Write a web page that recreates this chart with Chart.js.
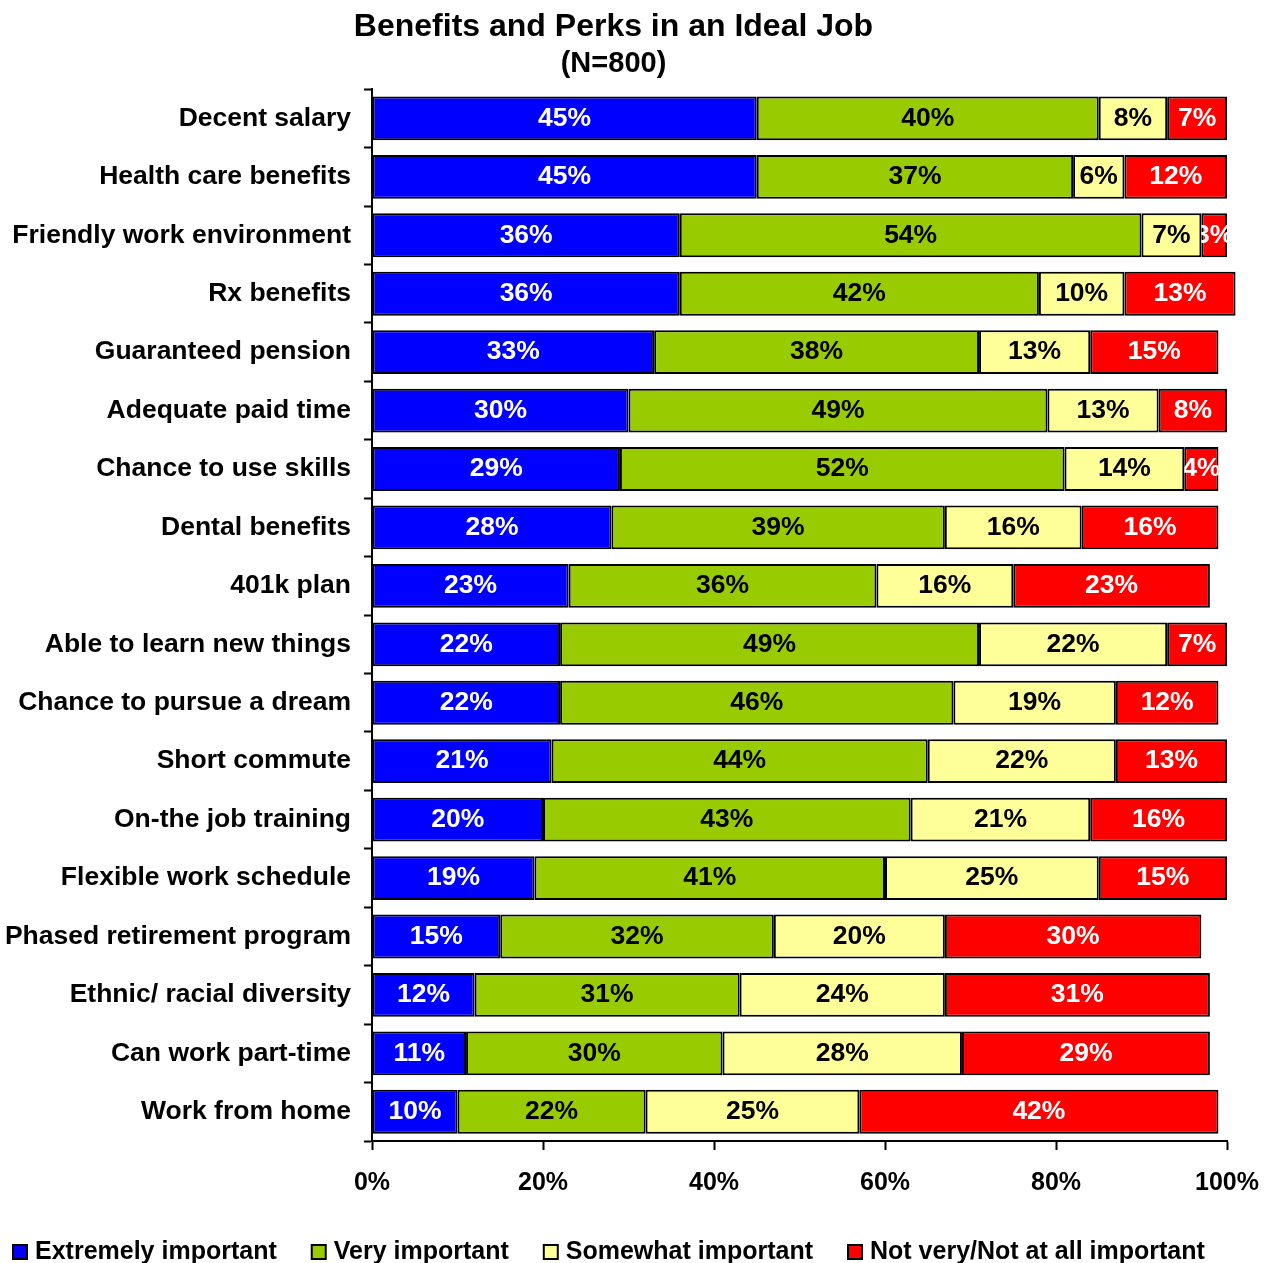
<!DOCTYPE html>
<html>
<head>
<meta charset="utf-8">
<title>Benefits and Perks in an Ideal Job</title>
<script src="https://cdn.jsdelivr.net/npm/chart.js@4.4.1/dist/chart.umd.min.js"></script>
<style>
  body { margin: 0; background: #fff; }
  #chart { display: block; }
</style>
</head>
<body>
<canvas id="chart" width="1270" height="1263"></canvas>
<script>
const categories = [
  "Decent salary",
  "Health care benefits",
  "Friendly work environment",
  "Rx benefits",
  "Guaranteed pension",
  "Adequate paid time",
  "Chance to use skills",
  "Dental benefits",
  "401k plan",
  "Able to learn new things",
  "Chance to pursue a dream",
  "Short commute",
  "On-the job training",
  "Flexible work schedule",
  "Phased retirement program",
  "Ethnic/ racial diversity",
  "Can work part-time",
  "Work from home",
];

const extremely = [45, 45, 36, 36, 33, 30, 29, 28, 23, 22, 22, 21, 20, 19, 15, 12, 11, 10];
const very = [40, 37, 54, 42, 38, 49, 52, 39, 36, 49, 46, 44, 43, 41, 32, 31, 30, 22];
const somewhat = [8, 6, 7, 10, 13, 13, 14, 16, 16, 22, 19, 22, 21, 25, 20, 24, 28, 25];
const notImportant = [7, 12, 3, 13, 15, 8, 4, 16, 23, 7, 12, 13, 16, 15, 30, 31, 29, 42];

const seriesNames = [
  "Extremely important",
  "Very important",
  "Somewhat important",
  "Not very/Not at all important",
];
const seriesColors = ["#0000FF", "#99CC00", "#FFFF99", "#FF0000"];
const labelColors = ["#FFFFFF", "#000000", "#000000", "#FFFFFF"];

const xTicks = [0, 20, 40, 60, 80, 100];

const FONT = "'Liberation Sans', Arial, sans-serif";

// percentages written in the middle of every segment, cut off at the segment edge
const segmentLabels = {
  id: "segmentLabels",
  afterDatasetsDraw(chart) {
    const ctx = chart.ctx;
    ctx.save();
    ctx.font = `bold 26.5px ${FONT}`;
    ctx.textAlign = "center";
    ctx.textBaseline = "middle";
    chart.data.datasets.forEach((ds, i) => {
      const meta = chart.getDatasetMeta(i);
      meta.data.forEach((bar, j) => {
        const left = Math.min(bar.x, bar.base);
        const right = Math.max(bar.x, bar.base);
        const top = bar.y - bar.height / 2;
        ctx.save();
        ctx.beginPath();
        ctx.rect(left, top, right - left, bar.height);
        ctx.clip();
        ctx.fillStyle = labelColors[i];
        ctx.fillText(ds.data[j] + "%", (left + right) / 2, bar.y);
        ctx.restore();
      });
    });
    ctx.restore();
  },
};

// legend row along the bottom edge
const bottomLegend = {
  id: "bottomLegend",
  afterDraw(chart) {
    const ctx = chart.ctx;
    ctx.save();
    ctx.font = `bold 25px ${FONT}`;
    ctx.textBaseline = "middle";
    ctx.textAlign = "left";
    let x = 12;
    const y = 1252;
    chart.data.datasets.forEach((ds) => {
      ctx.fillStyle = "#000";
      ctx.fillRect(x, y - 8, 16, 16);
      ctx.fillStyle = ds.backgroundColor;
      ctx.fillRect(x + 2, y - 6, 12, 12);
      ctx.fillStyle = "#000";
      ctx.fillText(ds.label, x + 23, y);
      x += 23 + ctx.measureText(ds.label).width + 34;
    });
    ctx.restore();
  },
};

const datasets = [extremely, very, somewhat, notImportant].map((values, i) => ({
  label: seriesNames[i],
  data: values,
  backgroundColor: seriesColors[i],
  borderColor: "#000000",
  borderWidth: 2,
  borderSkipped: false,
  barPercentage: 0.75,
  categoryPercentage: 1,
  clip: false,
}));

new Chart(document.getElementById("chart"), {
  type: "bar",
  data: { labels: categories, datasets },
  plugins: [segmentLabels, bottomLegend],
  options: {
    indexAxis: "y",
    responsive: false,
    animation: false,
    layout: { padding: { left: 0, right: 43, top: 0, bottom: 40 } },
    plugins: {
      legend: { display: false },
      tooltip: { enabled: false },
      title: {
        display: true,
        text: "Benefits and Perks in an Ideal Job",
        color: "#000",
        font: { family: FONT, size: 32, weight: "bold" },
        padding: { top: 8, bottom: 0 },
      },
      subtitle: {
        display: true,
        text: "(N=800)",
        color: "#000",
        font: { family: FONT, size: 29, weight: "bold" },
        padding: { top: 0, bottom: 8 },
      },
    },
    scales: {
      x: {
        stacked: true,
        min: 0,
        max: 100,
        afterBuildTicks: (scale) => {
          scale.ticks = xTicks.map((v) => ({ value: v }));
        },
        afterFit: (scale) => {
          scale.height = 82;
          scale.paddingLeft = 0;
          scale.paddingRight = 0;
        },
        ticks: {
          color: "#000",
          padding: 18,
          maxRotation: 0,
          font: { family: FONT, size: 25, weight: "bold" },
          callback: (v) => v + "%",
        },
        grid: {
          drawOnChartArea: false,
          drawTicks: true,
          tickLength: 9,
          tickWidth: 2,
          color: "#000",
        },
        border: { display: true, color: "#000", width: 2 },
      },
      y: {
        stacked: true,
        afterFit: (scale) => {
          scale.width = 372;
        },
        ticks: {
          color: "#000",
          padding: 13,
          autoSkip: false,
          font: { family: FONT, size: 26.5, weight: "bold" },
        },
        grid: {
          offset: true,
          drawOnChartArea: false,
          drawTicks: true,
          tickLength: 8,
          tickWidth: 2,
          color: "#000",
        },
        border: { display: true, color: "#000", width: 2 },
      },
    },
  },
});
</script>
</body>
</html>
